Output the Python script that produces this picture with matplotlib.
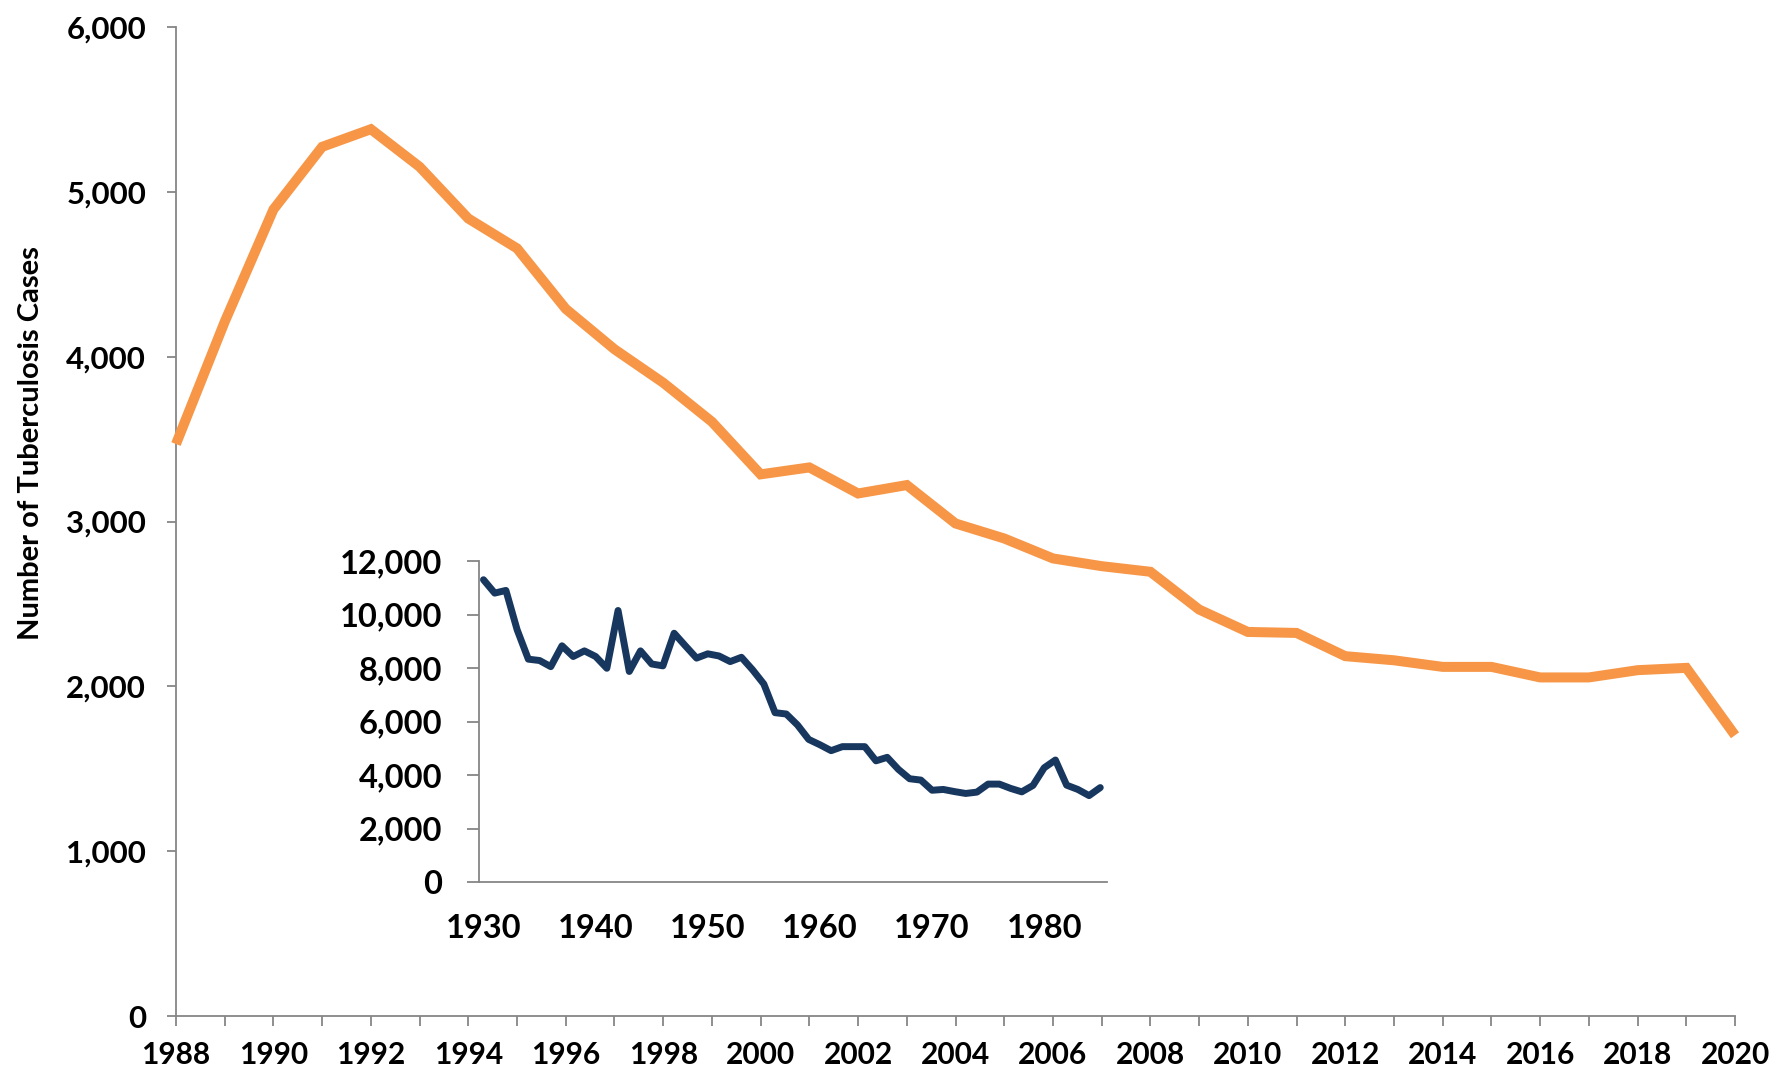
import matplotlib
matplotlib.use("Agg")
import matplotlib.pyplot as plt
from matplotlib.ticker import FuncFormatter

plt.rcParams['font.family'] = ['Lato', 'DejaVu Sans']
plt.rcParams['font.weight'] = 'bold'

# Main series (1988-2020)
main_years = list(range(1988, 2021))
main_cases = [3470, 4212, 4893, 5273, 5380, 5152, 4838, 4657, 4290, 4045,
              3842, 3605, 3286, 3328, 3170, 3221, 2988, 2897, 2776, 2729,
              2695, 2466, 2330, 2324, 2183, 2158, 2118, 2118, 2054, 2054,
              2098, 2112, 1703]

# Inset series (1930-1985)
inset_years = list(range(1930, 1986))
inset_cases = [11300, 10800, 10900, 9430, 8330, 8280, 8050, 8830, 8430, 8640,
               8430, 7990, 10150, 7870, 8640, 8150, 8080, 9300, 8830, 8370,
               8530, 8450, 8240, 8400, 7930, 7400, 6330, 6280, 5870, 5330,
               5130, 4910, 5060, 5060, 5060, 4530, 4660, 4210, 3860, 3810,
               3430, 3460, 3380, 3310, 3360, 3660, 3660, 3500, 3370, 3610,
               4270, 4560, 3620, 3460, 3230, 3530]

main_yticks = [0, 1000, 2000, 3000, 4000, 5000, 6000]
inset_yticks = [0, 2000, 4000, 6000, 8000, 10000, 12000]
inset_xticks = [1930, 1940, 1950, 1960, 1970, 1980]

ORANGE = '#F79646'
NAVY = '#17375E'
GRAY = '#868686'

W, H = 1777, 1077
fig = plt.figure(figsize=(W / 100, H / 100), dpi=100)

comma = FuncFormatter(lambda v, p: f"{int(v):,}")

# Main axes
ax = fig.add_axes([176 / W, 1 - 1016 / H, (1735 - 176) / W, (1016 - 27) / H])
ax.plot(main_years, main_cases, color=ORANGE, lw=7.2, solid_joinstyle='miter',
        solid_capstyle='butt', clip_on=False, zorder=3)
ax.set_xlim(1988, 2020)
ax.set_ylim(0, 6000)
ax.set_yticks(main_yticks)
ax.yaxis.set_major_formatter(comma)
ax.set_xticks(main_years)
ax.set_xticklabels([str(y) if (y % 2 == 0) else '' for y in main_years])
for s in ['top', 'right']:
    ax.spines[s].set_visible(False)
for s in ['left', 'bottom']:
    ax.spines[s].set_color(GRAY)
    ax.spines[s].set_linewidth(1.3)
ax.tick_params(axis='x', direction='out', length=7, width=1.3, color=GRAY,
               labelsize=21.5, pad=11)
ax.tick_params(axis='y', direction='out', length=6.5, width=1.3, color=GRAY,
               labelsize=22.5, pad=15)
for lab in ax.get_xticklabels() + ax.get_yticklabels():
    lab.set_fontweight('bold')

fig.text(31 / W, 1 - 443 / H, 'Number of Tuberculosis Cases', rotation=90,
         ha='center', va='center', fontsize=21, fontweight='bold')

# Inset axes
ix = fig.add_axes([479 / W, 1 - 882 / H, (1107 - 479) / W, (882 - 561) / H])
ix.set_facecolor('none')
ix.plot(inset_years, inset_cases, color=NAVY, lw=5, solid_joinstyle='round',
        solid_capstyle='round', zorder=3)
ix.set_xlim(1929.6, 1985.6)
ix.set_ylim(0, 12000)
ix.set_yticks(inset_yticks)
ix.yaxis.set_major_formatter(comma)
ix.set_xticks(inset_xticks)
for s in ['top', 'right']:
    ix.spines[s].set_visible(False)
for s in ['left', 'bottom']:
    ix.spines[s].set_color(GRAY)
    ix.spines[s].set_linewidth(1.3)
ix.tick_params(axis='x', length=0, labelsize=23.5, pad=23)
ix.tick_params(axis='y', direction='out', length=8.6, width=1.3, color=GRAY,
               labelsize=23.5, pad=18)
for lab in ix.get_xticklabels() + ix.get_yticklabels():
    lab.set_fontweight('bold')

fig.savefig('out.png', dpi=100, facecolor='white')
